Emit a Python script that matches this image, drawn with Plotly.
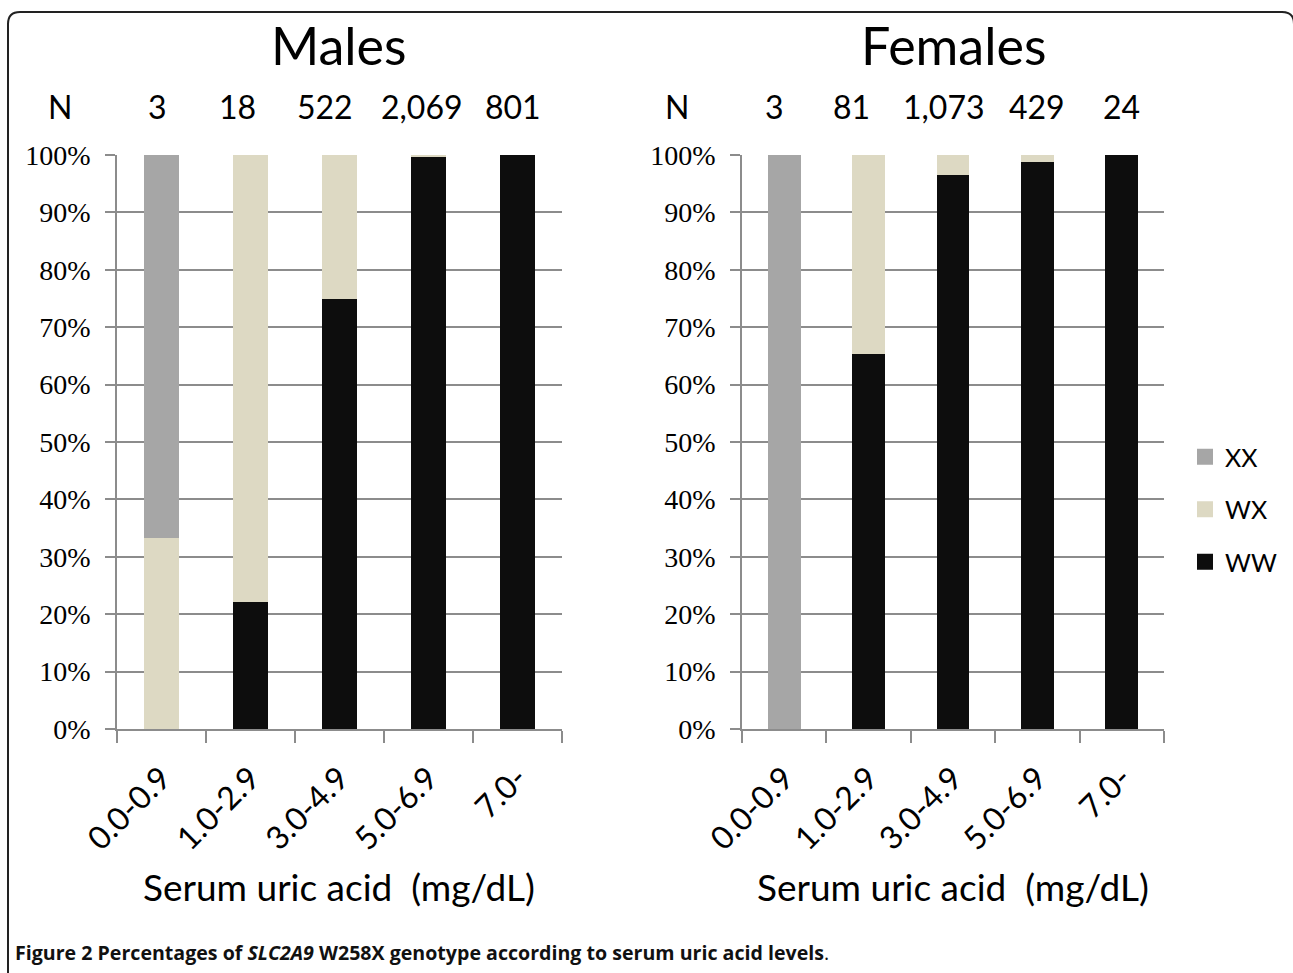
import plotly.graph_objects as go

W, H = 1293, 973

categories = ["0.0-0.9", "1.0-2.9", "3.0-4.9", "5.0-6.9", "7.0-"]
genotypes = ["WW", "WX", "XX"]

male_ww = [0.0, 22.2, 75.0, 99.6, 100.0]
male_wx = [33.3, 77.8, 25.0, 0.4, 0.0]
male_xx = [66.7, 0.0, 0.0, 0.0, 0.0]
male_n = ["3", "18", "522", "2,069", "801"]

female_ww = [0.0, 65.4, 96.6, 98.8, 100.0]
female_wx = [0.0, 34.6, 3.4, 1.2, 0.0]
female_xx = [100.0, 0.0, 0.0, 0.0, 0.0]
female_n = ["3", "81", "1,073", "429", "24"]

y_ticks = [0, 10, 20, 30, 40, 50, 60, 70, 80, 90, 100]
y_tick_labels = [f"{v}%" for v in y_ticks]

# horizontal nudges of the N labels (in category units), as they sit in the reference
male_n_nudge = [-0.05, -0.15, -0.16, -0.07, -0.05]
female_n_nudge = [-0.11, -0.2, -0.11, 0.0, 0.0]

colors = {"XX": "#a6a6a6", "WX": "#ddd9c3", "WW": "#0d0d0d"}
GRID = "#8c8c8c"
FONT = "Lato"


def px(x):
    return x / W


def py(y):
    return 1 - y / H


fig = go.Figure()
xpos = list(range(len(categories)))

panels = [
    ("x", "y", {"WW": male_ww, "WX": male_wx, "XX": male_xx}),
    ("x2", "y2", {"WW": female_ww, "WX": female_wx, "XX": female_xx}),
]
for xa, ya, vals in panels:
    for g in genotypes:
        fig.add_trace(go.Bar(
            x=xpos, y=vals[g], name=g, marker=dict(color=colors[g], line=dict(width=0)),
            width=0.39, xaxis=xa, yaxis=ya, showlegend=False,
        ))

# legend entries (square symbols)
for g in ["XX", "WX", "WW"]:
    fig.add_trace(go.Scatter(
        x=[None], y=[None], mode="markers", name=g, legendgroup=g,
        marker=dict(symbol="square", size=17, color=colors[g]),
        xaxis="x2", yaxis="y2",
    ))

ydom = [py(729), py(155)]
xdom1 = [px(117), px(562)]
xdom2 = [px(742), px(1164)]

bounds = [i - 0.5 for i in range(len(categories) + 1)]

xaxis_common = dict(
    range=[-0.5, len(categories) - 0.5], tickmode="array", tickvals=xpos, ticktext=categories,
    tickangle=-45, ticks="", showline=True, linecolor=GRID, linewidth=1.5,
    showgrid=False, zeroline=False, tickfont=dict(family=FONT, size=32, color="black"),
    ticklabelstandoff=16, automargin=False,
    minor=dict(tickmode="array", tickvals=bounds, ticks="outside", ticklen=12,
               tickcolor=GRID, tickwidth=1.5, showgrid=False),
)
yaxis_common = dict(
    range=[0, 100], tickmode="array", tickvals=y_ticks, ticktext=y_tick_labels,
    ticks="outside", ticklen=10, tickcolor=GRID, tickwidth=1.5,
    showline=True, linecolor=GRID, linewidth=1.5, showgrid=True, gridcolor=GRID, gridwidth=1.5,
    zeroline=False, tickfont=dict(family="Liberation Serif", size=28, color="black"),
    ticklabelstandoff=9, automargin=False,
)

fig.update_layout(
    width=W, height=H, margin=dict(l=0, r=0, t=0, b=0),
    paper_bgcolor="white", plot_bgcolor="white",
    barmode="stack", bargap=0.6,
    font=dict(family=FONT, color="black"),
    xaxis=dict(domain=xdom1, anchor="y", **xaxis_common),
    yaxis=dict(domain=ydom, anchor="x", **yaxis_common),
    xaxis2=dict(domain=xdom2, anchor="y2", **xaxis_common),
    yaxis2=dict(domain=ydom, anchor="x2", **yaxis_common),
    legend=dict(x=px(1185), y=py(434), xanchor="left", yanchor="top",
                font=dict(family=FONT, size=25, color="black"),
                traceorder="grouped", tracegroupgap=17, bgcolor="rgba(0,0,0,0)",
                itemsizing="trace"),
    showlegend=True,
)

ann = []


def text(t, x, y, size, xref="paper", family=FONT, xanchor="center", color="black"):
    ann.append(dict(text=t, x=x, y=y, xref=xref, yref="paper", xanchor=xanchor, yanchor="middle",
                    showarrow=False, font=dict(size=size, family=family, color=color)))


# Titles
text("Males", (xdom1[0] + xdom1[1]) / 2, py(45), 52)
text("Females", (xdom2[0] + xdom2[1]) / 2, py(45), 52)
# N rows
text("N", px(60), py(106), 32)
text("N", px(677), py(106), 32)
for i, n in enumerate(male_n):
    text(n, i + male_n_nudge[i], py(106), 32, xref="x")
for i, n in enumerate(female_n):
    text(n, i + female_n_nudge[i], py(106), 32, xref="x2")
# axis titles
for dom in (xdom1, xdom2):
    text("Serum uric acid  (mg/dL)", (dom[0] + dom[1]) / 2, py(886), 37)
# caption
text("<b>Figure 2 Percentages of <i>SLC2A9</i> W258X genotype according to serum uric acid levels</b>.",
     px(13), py(952), 19.6, family="Open Sans", xanchor="left", color="#111")
fig.update_layout(annotations=ann)

# frame (right side runs just outside the visible area)
r = 12
path = (f"M {px(8)},{py(980)} L {px(8)},{py(12 + r)} Q {px(8)},{py(12)} {px(8 + r)},{py(12)} "
        f"L {px(1294 - r)},{py(12)} Q {px(1294)},{py(12)} {px(1294)},{py(12 + r)} L {px(1294)},{py(980)}")
fig.add_shape(type="path", path=path, xref="paper", yref="paper", line=dict(color="#222", width=2))

fig.write_html("out.html", config={"displayModeBar": False},
               post_script="document.body.style.margin='0';document.body.style.overflow='hidden';")
